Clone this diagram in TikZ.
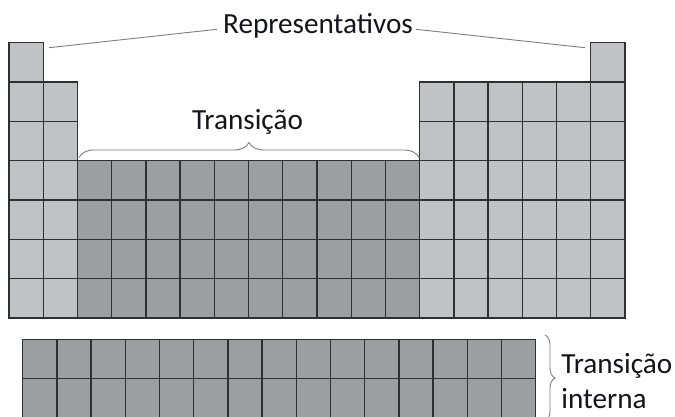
\documentclass[tikz,border=0pt]{standalone}
\usepackage{fontspec}
\setmainfont{Carlito}
\usetikzlibrary{decorations.pathreplacing}
\definecolor{lightcell}{RGB}{193,194,198}
\definecolor{darkcell}{RGB}{157,158,162}
\definecolor{gridline}{RGB}{48,48,50}
\definecolor{leader}{RGB}{125,125,125}
\definecolor{txt}{RGB}{20,20,28}
\newcommand\mcell[3]{\filldraw[cell,fill=#3] ({9+(#1-1)*34.222},{42.7+(#2-1)*39.33}) rectangle ++(34.222,39.33);}
\begin{document}
\begin{tikzpicture}[x=1pt,y=-1pt,
  cell/.style={draw=gridline,line width=1.3pt},
  lbl/.style={font=\fontsize{29.2}{35}\selectfont,text=txt,inner sep=0pt},
  leaderline/.style={draw=leader,line width=0.9pt},
  bracedeco/.style={draw=leader,line width=0.9pt,decorate,decoration={brace,amplitude=#1}}]
\clip (0,0) rectangle (675,416);
\fill[white] (0,0) rectangle (675,416);
% main table
\foreach \c in {1,18} {\mcell{\c}{1}{lightcell}}
\foreach \r in {2,3} {\foreach \c in {1,2,13,14,15,16,17,18} {\mcell{\c}{\r}{lightcell}}}
\foreach \r in {4,...,7} {
  \foreach \c in {1,2,13,14,15,16,17,18} {\mcell{\c}{\r}{lightcell}}
  \foreach \c in {3,...,12} {\mcell{\c}{\r}{darkcell}}
}
% lower block
\foreach \r in {1,2} {\foreach \c in {1,...,15} {
  \filldraw[cell,fill=darkcell] ({22.7+(\c-1)*34.2},{339.3+(\r-1)*39.2}) rectangle ++(34.2,39.2);}}
% labels
\node[lbl,anchor=base] (rep) at (318,33.3) {Representativos};
\coordinate (h1) at (49,47.7);
\coordinate (h18) at (585,47.7);
\draw[leaderline] (h1) -- ([shift={(-6,-4)}]rep.base west);
\draw[leaderline] ([shift={(3,-4)}]rep.base east) -- (h18);
\node[lbl,anchor=base] (trans) at (247.5,129.3) {Transição};
\coordinate (bl) at (79,157.5);
\coordinate (br) at (419,157.5);
\draw[bracedeco=15pt] (bl) -- (br);
\node[lbl,anchor=base west] (ti1) at (561.2,373) {Transição};
\node[lbl,anchor=base west] (ti2) at (561.2,408) {interna};
\coordinate (rt) at (545,335);
\coordinate (rb) at (545,421);
\draw[bracedeco=10pt] (rt) -- (rb);
\end{tikzpicture}
\end{document}
